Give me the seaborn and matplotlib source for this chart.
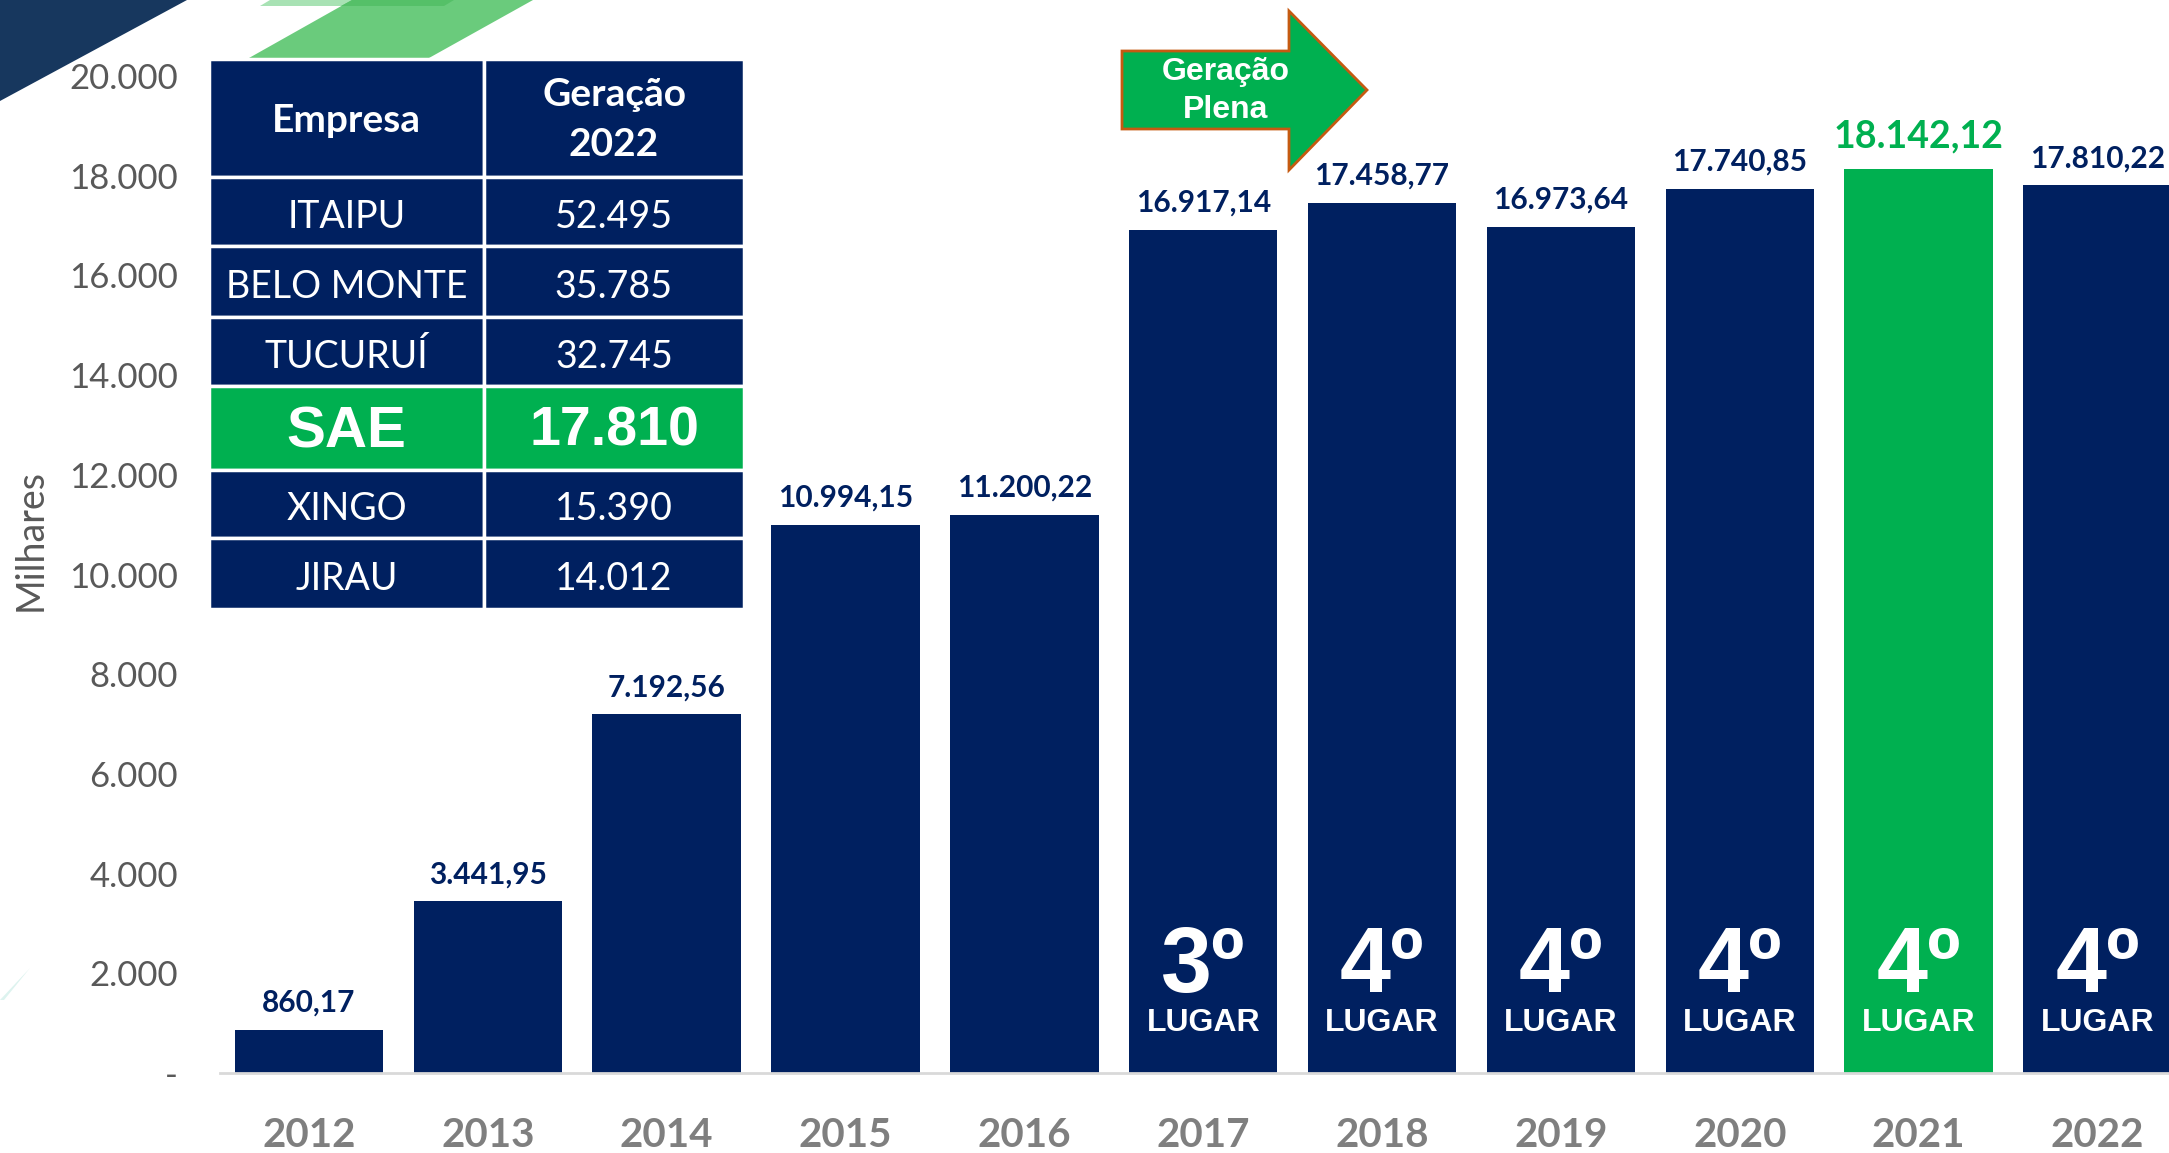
import seaborn as sns
import matplotlib.pyplot as plt
from matplotlib.patches import Polygon, Rectangle
from matplotlib.ticker import FuncFormatter

# dados do gráfico
years = ['2012', '2013', '2014', '2015', '2016', '2017', '2018', '2019', '2020', '2021', '2022']
values = [860.17, 3441.95, 7192.56, 10994.15, 11200.22, 16917.14, 17458.77,
          16973.64, 17740.85, 18142.12, 17810.22]
ranks = ['', '', '', '', '', '3º', '4º', '4º', '4º', '4º', '4º']
highlight = '2021'

# tabela de geração 2022
companies = ['ITAIPU', 'BELO MONTE', 'TUCURUÍ', 'SAE', 'XINGO', 'JIRAU']
generation = [52495, 35785, 32745, 17810, 15390, 14012]

NAVY = '#002060'
GREEN = '#00B050'
W, H = 2169, 1153


def br(v, dec=2):
    s = f'{v:,.{dec}f}'
    return s.replace(',', 'X').replace('.', ',').replace('X', '.')


sns.set_style('white')
plt.rcParams['font.family'] = ['Lato', 'DejaVu Sans']

fig = plt.figure(figsize=(W / 100, H / 100), dpi=100)
ax = fig.add_axes([219.5 / W, 80 / H, 1 - 219.5 / W, 997 / H])

colors = [GREEN if y == highlight else NAVY for y in years]
sns.barplot(x=years, y=values, hue=years, palette=colors, legend=False,
            width=0.83, saturation=1, ax=ax, linewidth=0)

ax.set_ylim(0, 20000)
ax.set_xlim(-0.5, 10.4)
ax.set_yticks(range(0, 20001, 2000))
ax.yaxis.set_major_formatter(FuncFormatter(lambda v, p: '-' if v == 0 else br(v, 0)))
ax.tick_params(axis='y', length=0, pad=30, labelsize=25, labelcolor='#595959')
ax.tick_params(axis='x', length=0, pad=32, labelsize=29, labelcolor='#7F7F7F')
for t in ax.get_xticklabels():
    t.set_fontweight('bold')
ax.set_xlabel('')
ax.set_ylabel('Milhares', fontsize=27, color='#595959', va='center')
ax.yaxis.set_label_coords(-0.097, 0.535)
for s in ['top', 'right', 'left']:
    ax.spines[s].set_visible(False)
ax.spines['bottom'].set_color('#D9D9D9')
ax.spines['bottom'].set_linewidth(2)

# rótulos de valor e posição
for i, (y, v, r) in enumerate(zip(years, values, ranks)):
    hl = y == highlight
    ax.annotate(br(v), (i, v), xytext=(0, 15 if hl else 13), textcoords='offset points',
                ha='center', va='baseline', fontsize=27 if hl else 21.5, fontweight='bold',
                color=GREEN if hl else NAVY, clip_on=False)
    if r:
        ax.annotate(r, (i, 0), xytext=(0, 58), textcoords='offset points', ha='center',
                    va='baseline', fontsize=66, fontweight='bold', color='white',
                    family='Liberation Sans')
        ax.annotate('LUGAR', (i, 0), xytext=(0, 30), textcoords='offset points', ha='center',
                    va='baseline', fontsize=23, fontweight='bold', color='white',
                    family='Liberation Sans')

# camada de sobreposição em pixels
ov = fig.add_axes([0, 0, 1, 1], zorder=5)
ov.set_xlim(0, W)
ov.set_ylim(H, 0)
ov.axis('off')
ov.patch.set_alpha(0)

# enfeites
ov.add_patch(Polygon([(0, 0), (187, 0), (0, 101)], color='#17375E', lw=0))
ov.add_patch(Polygon([(270, 0), (454, 0), (444, 6), (260, 6)], color='#A8E2B4', lw=0))
ov.add_patch(Polygon([(249, 58), (429, 58), (533, 0), (352, 0)], color='#6ACB7C', lw=0))
ov.add_patch(Polygon([(352, 0), (454, 0), (444, 6), (341, 6)], color='#55C068', lw=0))
ov.add_patch(Polygon([(0, 1000), (30, 968), (4, 1000)], color='#DDF3EF', lw=0))

# seta "Geração Plena"
ov.add_patch(Polygon([(1122, 51), (1289, 51), (1289, 11), (1367, 90), (1289, 170),
                      (1289, 129), (1122, 129)], facecolor=GREEN, edgecolor='#C55A11', lw=2))
ov.text(1226, 72, 'Geração', ha='center', va='center', color='white', fontsize=23,
        fontweight='bold', family='Liberation Sans')
ov.text(1226, 110, 'Plena', ha='center', va='center', color='white', fontsize=23,
        fontweight='bold', family='Liberation Sans')

# tabela
x0, xm, x1 = 209, 484, 744
rows = [59, 177, 246, 317, 386, 470, 538, 609]
c1, c2 = (x0 + xm) / 2, (xm + x1) / 2
for k in range(len(rows) - 1):
    is_sae = k > 0 and companies[k - 1] == 'SAE'
    fc = GREEN if is_sae else NAVY
    for a, b in [(x0, xm), (xm, x1)]:
        ov.add_patch(Rectangle((a, rows[k]), b - a, rows[k + 1] - rows[k],
                               facecolor=fc, edgecolor='white', lw=2.5))
ov.text(c1, 120, 'Empresa', ha='center', va='center', color='white', fontsize=28,
        fontweight='bold')
ov.text(c2, 95, 'Geração', ha='center', va='center', color='white', fontsize=28,
        fontweight='bold')
ov.text(c2, 145, '2022', ha='center', va='center', color='white', fontsize=28,
        fontweight='bold')
for k, (c, g) in enumerate(zip(companies, generation)):
    yc = (rows[k + 1] + rows[k + 2]) / 2
    if c == 'SAE':
        ov.text(c1, yc + 4, c, ha='center', va='center', color='white', fontsize=42,
                fontweight='bold', family='Liberation Sans')
        ov.text(c2, yc + 4, br(g, 0), ha='center', va='center', color='white', fontsize=40,
                fontweight='bold', family='Liberation Sans')
    else:
        ov.text(c1, yc + 5, c, ha='center', va='center', color='white', fontsize=27)
        ov.text(c2, yc + 5, br(g, 0), ha='center', va='center', color='white', fontsize=27)

fig.savefig('out.png', dpi=100)
